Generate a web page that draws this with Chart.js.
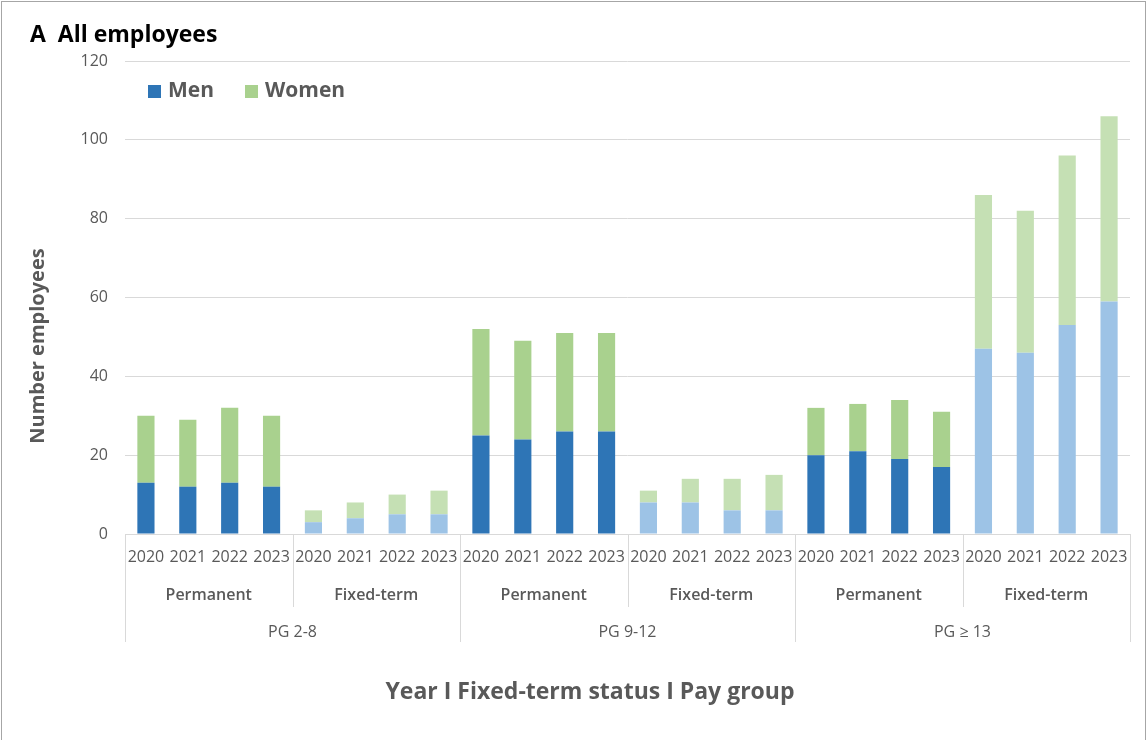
<!DOCTYPE html>
<html>
<head>
<meta charset="utf-8">
<script src="https://cdn.jsdelivr.net/npm/chart.js@4.4.1/dist/chart.umd.min.js"></script>
<style>
  body { margin: 0; background: #fff; }
  canvas { display: block; }
</style>
</head>
<body>
<canvas id="chart" width="1147" height="740"></canvas>
<script>
// data
let years = ["2020", "2021", "2022", "2023"];
let statuses = ["Permanent", "Fixed-term"];
let payGroups = ["PG 2-8", "PG 9-12", "PG \u2265 13"];
let menValues = [13, 12, 13, 12, 3, 4, 5, 5, 25, 24, 26, 26, 8, 8, 6, 6, 20, 21, 19, 17, 47, 46, 53, 59];
let womenValues = [17, 17, 19, 18, 3, 4, 5, 6, 27, 25, 25, 25, 3, 6, 8, 9, 12, 12, 15, 14, 39, 36, 43, 47];
let yTicks = [0, 20, 40, 60, 80, 100, 120];

let fontFamily = "'Open Sans', Lato, sans-serif";
let grey = "#595959";
let gridColor = "#D9D9D9";

// darker shade for permanent, lighter for fixed-term
let menColors = { Permanent: "#2E75B6", "Fixed-term": "#9DC3E6" };
let womenColors = { Permanent: "#A9D18E", "Fixed-term": "#C5E0B4" };

let labels = [];
let statusOfBar = [];
payGroups.forEach((pg) => {
  statuses.forEach((st) => {
    years.forEach((yr) => {
      labels.push(yr);
      statusOfBar.push(st);
    });
  });
});

let groupLabels = {
  id: "groupLabels",
  beforeDraw(chart) {
    let ctx = chart.ctx;
    ctx.save();
    ctx.fillStyle = "#fff";
    ctx.fillRect(0, 0, chart.width, chart.height);
    ctx.strokeStyle = "#A6A6A6";
    ctx.lineWidth = 1;
    ctx.strokeRect(1.5, 1.5, chart.width - 3, chart.height + 10);
    ctx.restore();
  },
  afterDraw(chart) {
    let ctx = chart.ctx;
    let x = chart.scales.x;
    let area = chart.chartArea;
    let per = years.length;
    ctx.save();

    // separators under the axis
    ctx.strokeStyle = gridColor;
    ctx.lineWidth = 1;
    for (let i = 0; i <= labels.length; i += per) {
      let px = Math.round(x.getPixelForValue(i - 0.5)) + 0.5;
      let isGroupEdge = i % (per * statuses.length) == 0;
      ctx.beginPath();
      ctx.moveTo(px, area.bottom);
      ctx.lineTo(px, isGroupEdge ? 642 : 607);
      ctx.stroke();
    }

    ctx.fillStyle = grey;
    ctx.textAlign = "center";
    ctx.textBaseline = "middle";
    ctx.font = "600 16px " + fontFamily;
    // status row
    for (let s = 0; s < payGroups.length * statuses.length; s++) {
      let a = x.getPixelForValue(s * per - 0.5);
      let b = x.getPixelForValue((s + 1) * per - 0.5);
      ctx.fillText(statuses[s % statuses.length], (a + b) / 2, 595);
    }
    // pay group row
    ctx.font = "16px " + fontFamily;
    let span = per * statuses.length;
    payGroups.forEach((pg, g) => {
      let a = x.getPixelForValue(g * span - 0.5);
      let b = x.getPixelForValue((g + 1) * span - 0.5);
      ctx.fillText(pg, (a + b) / 2, 632);
    });

    // legend
    ctx.textAlign = "left";
    ctx.font = "bold 21px " + fontFamily;
    let lx = area.left + 23;
    chart.data.datasets.forEach((ds) => {
      ctx.fillStyle = ds.backgroundColor[0];
      ctx.fillRect(lx, 85, 13, 13);
      ctx.fillStyle = grey;
      ctx.fillText(ds.label, lx + 20, 91);
      lx += 20 + ctx.measureText(ds.label).width + 31;
    });

    // axis titles
    ctx.textAlign = "center";
    ctx.font = "bold 23px " + fontFamily;
    ctx.fillText("Year I Fixed-term status I Pay group", 590, 692);

    ctx.save();
    ctx.translate(38, 346);
    ctx.rotate(-Math.PI / 2);
    ctx.font = "bold 20px " + fontFamily;
    ctx.fillText("Number employees", 0, 0);
    ctx.restore();

    // panel title
    ctx.fillStyle = "#000";
    ctx.textAlign = "left";
    ctx.font = "bold 23px " + fontFamily;
    ctx.fillText("A  All employees", 30, 35);
    ctx.restore();
  },
};

new Chart(document.getElementById("chart"), {
  type: "bar",
  data: {
    labels: labels,
    datasets: [
      {
        label: "Men",
        data: menValues,
        backgroundColor: statusOfBar.map((s) => menColors[s]),
      },
      {
        label: "Women",
        data: womenValues,
        backgroundColor: statusOfBar.map((s) => womenColors[s]),
      },
    ],
  },
  options: {
    responsive: false,
    animation: false,
    devicePixelRatio: 1,
    layout: { padding: { top: 61, right: 17, bottom: 0, left: 0 } },
    datasets: {
      bar: { categoryPercentage: 1, barPercentage: 0.41 },
    },
    plugins: {
      title: { display: false },
      tooltip: { enabled: false },
      legend: { display: false },
    },
    scales: {
      x: {
        stacked: true,
        grid: { display: false, drawTicks: false },
        border: { display: true, color: gridColor },
        ticks: {
          color: grey,
          font: { family: fontFamily, size: 16 },
          padding: 14,
          maxRotation: 0,
          autoSkip: false,
        },
        afterFit: (scale) => {
          scale.height = 206;
        },
      },
      y: {
        stacked: true,
        min: 0,
        max: 120,
        afterBuildTicks: (scale) => {
          scale.ticks = yTicks.map((v) => ({ value: v }));
        },
        grid: { color: gridColor, drawTicks: false },
        border: { display: false },
        ticks: {
          color: grey,
          font: { family: fontFamily, size: 16 },
          padding: 17,
        },
        afterFit: (scale) => {
          scale.width = 125;
        },
      },
    },
  },
  plugins: [groupLabels],
});
</script>
</body>
</html>
